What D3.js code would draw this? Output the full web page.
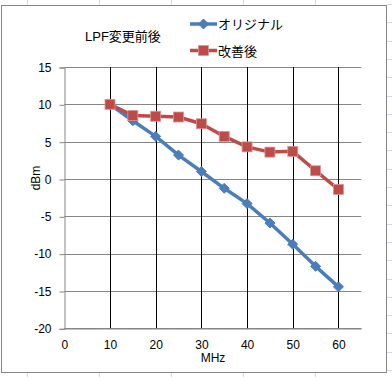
<!DOCTYPE html>
<html><head><meta charset="utf-8">
<script src="https://cdn.jsdelivr.net/npm/d3@7"></script>
<style>
html,body{margin:0;padding:0;background:#fff;}
text{font-family:"Liberation Sans",Arial,"Noto Sans CJK JP",sans-serif;}
</style></head>
<body>
<script>
const freqs = [10,15,20,25,30,35,40,45,50,55,60];
const original = [10,7.8,5.7,3.2,1.0,-1.25,-3.3,-5.9,-8.75,-11.7,-14.45];
const improved = [10,8.5,8.4,8.3,7.4,5.7,4.3,3.6,3.7,1.1,-1.4];
const xTicks = [0,10,20,30,40,50,60];
const yTicks = [15,10,5,0,-5,-10,-15,-20];
const seriesNames = ["オリジナル","改善後"];
const titleText = "LPF変更前後";

const W=392,H=377;
const svg=d3.select("body").append("svg").attr("width",W).attr("height",H);

// Excel-like cell gridlines outside the chart
const cellCol="#d4d8df";
[27,99,171,243,315].forEach(x=>{
  svg.append("line").attr("x1",x+0.5).attr("x2",x+0.5).attr("y1",0).attr("y2",5).attr("stroke",cellCol);
  svg.append("line").attr("x1",x+0.5).attr("x2",x+0.5).attr("y1",373).attr("y2",H).attr("stroke",cellCol);
});
for(let y=4;y<H;y+=18.3){
  svg.append("line").attr("x1",387).attr("x2",W).attr("y1",Math.round(y)+0.5).attr("y2",Math.round(y)+0.5).attr("stroke",cellCol);
}
// chart border
svg.append("rect").attr("x",1.5).attr("y",5.5).attr("width",385).attr("height",367).attr("fill","#fff").attr("stroke","#868686").attr("stroke-width",1);

const x=d3.scaleLinear().domain([0,65]).range([64.3,361.3]);
const y=d3.scaleLinear().domain([-20,15]).range([328.3,67]);

// horizontal gridlines
svg.append("g").selectAll("line").data(yTicks).join("line")
  .attr("x1",x(0)).attr("x2",x(65))
  .attr("y1",d=>Math.round(y(d))+0.5).attr("y2",d=>Math.round(y(d))+0.5)
  .attr("stroke","#868686").attr("stroke-width",1);
// vertical gridlines
svg.append("g").selectAll("line").data(xTicks.filter(d=>d>0)).join("line")
  .attr("x1",d=>Math.round(x(d))+0.5).attr("x2",d=>Math.round(x(d))+0.5)
  .attr("y1",y(15)).attr("y2",y(-20))
  .attr("stroke","#000").attr("stroke-width",1);

const fmt=d=>String(d);
// y axis
const yAxis=d3.axisLeft(y).tickValues(yTicks).tickSize(5).tickPadding(8).tickFormat(fmt);
const gy=svg.append("g").attr("transform",`translate(${Math.round(x(0))+0.5},0.5)`).call(yAxis);
gy.selectAll("path,line").attr("stroke","#868686");
gy.selectAll("text").attr("font-size",12).attr("fill","#000").attr("font-family","'Liberation Sans',Arial,sans-serif");
// x axis
const xAxis=d3.axisBottom(x).tickValues(xTicks).tickSize(0).tickPadding(12).tickFormat(fmt);
const gx=svg.append("g").attr("transform",`translate(0,${Math.round(y(-20))+0.5})`).call(xAxis);
gx.select("path").attr("stroke","#868686");
gx.selectAll("text").attr("font-size",12).attr("fill","#000").attr("font-family","'Liberation Sans',Arial,sans-serif");

svg.append("text").attr("x",213).attr("y",362).attr("text-anchor","middle").attr("font-size",12).text("MHz");
svg.append("text").attr("transform","translate(40,178) rotate(-90)").attr("text-anchor","middle").attr("font-size",12).text("dBm");
svg.append("text").attr("x",85).attr("y",41).attr("font-size",13).text(titleText);

const blue="#4a7ebb", red="#be4b48";
const line=d3.line().x((d,i)=>x(freqs[i])).y(d=>y(d));
function diamond(g,cx,cy,s,col){
  g.append("path").attr("d",`M${cx},${cy-s}L${cx+s},${cy}L${cx},${cy+s}L${cx-s},${cy}Z`).attr("fill",col).attr("stroke",col).attr("stroke-width",1);
}
function square(g,cx,cy,s,col){
  g.append("rect").attr("x",cx-s).attr("y",cy-s).attr("width",2*s).attr("height",2*s).attr("fill",col).attr("stroke","#d99694").attr("stroke-width",0.8);
}
// blue series
const gb=svg.append("g");
gb.append("path").datum(original).attr("d",line).attr("fill","none").attr("stroke",blue).attr("stroke-width",3.5).attr("stroke-linejoin","round");
original.forEach((v,i)=>diamond(gb,x(freqs[i]),y(v),5,blue));
// red series
const gr=svg.append("g");
gr.append("path").datum(improved).attr("d",line).attr("fill","none").attr("stroke",red).attr("stroke-width",3.5).attr("stroke-linejoin","round");
improved.forEach((v,i)=>square(gr,x(freqs[i]),y(v),5,red));

// legend
const lg=svg.append("g");
lg.append("line").attr("x1",190).attr("x2",217).attr("y1",24).attr("y2",24).attr("stroke",blue).attr("stroke-width",3.5);
diamond(lg,203.5,24,5,blue);
lg.append("text").attr("x",218).attr("y",29).attr("font-size",13).text(seriesNames[0]);
lg.append("line").attr("x1",190).attr("x2",217).attr("y1",50.5).attr("y2",50.5).attr("stroke",red).attr("stroke-width",3.5);
square(lg,203.5,50.5,5,red);
lg.append("text").attr("x",218).attr("y",55.5).attr("font-size",13).text(seriesNames[1]);
</script>
</body></html>
